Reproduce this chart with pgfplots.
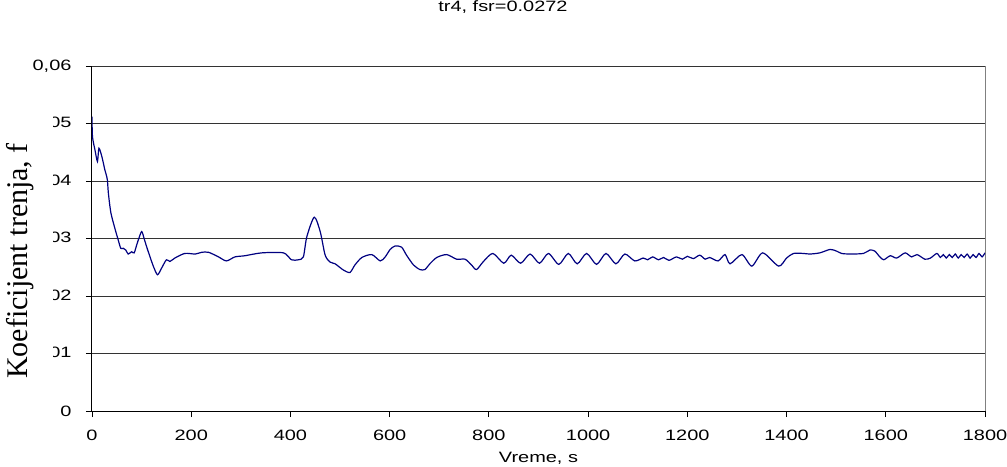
\documentclass[border=0pt]{standalone}
\usepackage{fontspec}
\setmainfont{Liberation Sans}
\newfontfamily\timesfont[Ligatures=NoCommon]{Liberation Serif}
\usepackage{graphicx}
\usepackage{pgfplots}
\pgfplotsset{compat=1.18}

\definecolor{trace}{RGB}{0,0,128}
\newcommand{\lab}[1]{\scalebox{1.33}[1]{#1}}

\begin{document}
\begin{tikzpicture}
\path[use as bounding box] (-92bp,-56bp) rectangle (915bp,411bp);
\begin{axis}[
  scale only axis, width=893bp, height=345bp,
  xmin=0, xmax=1800, ymin=0, ymax=0.06,
  scaled y ticks=false,
  axis x line*=bottom, axis y line*=left,
  axis line style={black, line width=1bp},
  xtick={0,200,...,1800}, ytick={0,0.01,0.02,0.03,0.04,0.05,0.06},
  xticklabels={\lab{0},\lab{200},\lab{400},\lab{600},\lab{800},\lab{1000},\lab{1200},\lab{1400},\lab{1600},\lab{1800}},
  yticklabels={\lab{0},\lab{0,01},\lab{0,02},\lab{0,03},\lab{0,04},\lab{0,05},\lab{0,06}},
  tick align=outside, major tick length=6bp, tick style={black, line width=0.8bp},
  ymajorgrids, major grid style={black!80, line width=1bp},
  extra x ticks={1800}, extra x tick labels={},
  extra x tick style={grid=major, major grid style={gray, line width=1bp}, major tick length=0pt},
  ticklabel style={font=\fontsize{15bp}{18bp}\selectfont},
  xticklabel style={yshift=-10bp},
  yticklabel style={xshift=-11bp},
  title={\lab{tr4, fsr=0.0272}},
  title style={font=\fontsize{15bp}{18bp}\selectfont, at={(axis description cs:0.4602,1.1536)}, anchor=center},
  xlabel={\lab{Vreme, s}},
  xlabel style={font=\fontsize{15bp}{18bp}\selectfont, at={(axis description cs:0.5,0)}, anchor=center, yshift=-47bp},
  ylabel={Koeficijent trenja, f},
  ylabel style={font=\timesfont\fontsize{30bp}{34bp}\selectfont, at={(axis description cs:-0.0805,0.435)}, anchor=center, fill=white, minimum height=66bp, minimum width=300bp},
]
\addplot[trace, line width=1.2bp, smooth, tension=0.45] coordinates {
(0,0.0512) (1,0.0477) (6,0.0454) (11,0.0434) (14,0.0457) (20,0.0442) (26,0.0419)
(28,0.0413) (31,0.0402) (33,0.0379) (38,0.0345) (46,0.0318) (53,0.0297) (58,0.0283)
(63,0.0283) (68,0.0280) (73,0.0273) (80,0.0277) (85,0.0275) (92,0.0294) (100,0.0312)
(105,0.0300) (110,0.0286) (117,0.0268) (124,0.0251) (132,0.0237) (140,0.0248)
(150,0.0263) (157,0.0260) (167,0.0266) (187,0.0274) (208,0.0273) (221,0.0276)
(235,0.0276) (255,0.0268) (271,0.0261) (288,0.0268) (308,0.0270) (342,0.0275)
(386,0.0275) (402,0.0263) (416,0.0263) (426,0.0268) (433,0.0303) (448,0.0337)
(460,0.0312) (470,0.0271) (480,0.0259) (490,0.0256) (507,0.0245) (520,0.0241)
(530,0.0254) (544,0.0267) (564,0.0272) (581,0.0261) (591,0.0268) (601,0.0281)
(611,0.0287) (624,0.0285) (634,0.0271) (648,0.0254) (661,0.0246) (671,0.0246)
(681,0.0256) (695,0.0267) (715,0.0272) (735,0.0264) (752,0.0264) (765,0.0254)
(775,0.0246) (789,0.0260) (808,0.0274) (830,0.0257) (845,0.0271) (864,0.0257)
(883,0.0273) (902,0.0257) (920,0.0274) (941,0.0255) (960,0.0274) (978,0.0256)
(997,0.0274) (1017,0.0255) (1036,0.0274) (1056,0.0256) (1074,0.0273) (1094,0.0261)
(1111,0.0266) (1120,0.0263) (1130,0.0268) (1142,0.0263) (1152,0.0267) (1163,0.0262)
(1178,0.0268) (1190,0.0264) (1200,0.0269) (1212,0.0265) (1225,0.0271) (1236,0.0264)
(1245,0.0267) (1262,0.0261) (1276,0.0272) (1286,0.0256) (1310,0.0272) (1330,0.0252)
(1352,0.0275) (1384,0.0252) (1400,0.0266) (1414,0.0274) (1434,0.0274) (1447,0.0273)
(1467,0.0275) (1488,0.0281) (1501,0.0278) (1511,0.0274) (1528,0.0273) (1555,0.0274)
(1568,0.0280) (1578,0.0278) (1588,0.0268) (1596,0.0263) (1609,0.0270) (1622,0.0266)
(1639,0.0275) (1652,0.0268) (1663,0.0272) (1679,0.0264) (1690,0.0266) (1703,0.0274)
(1710,0.0267) (1716,0.0272) (1722,0.0266) (1728,0.0272) (1734,0.0267) (1740,0.0273)
(1746,0.0266) (1752,0.0272) (1758,0.0267) (1764,0.0273) (1770,0.0266) (1776,0.0272)
(1782,0.0267) (1788,0.0274) (1794,0.0268) (1800,0.0275)
};
\end{axis}
\end{tikzpicture}
\end{document}
